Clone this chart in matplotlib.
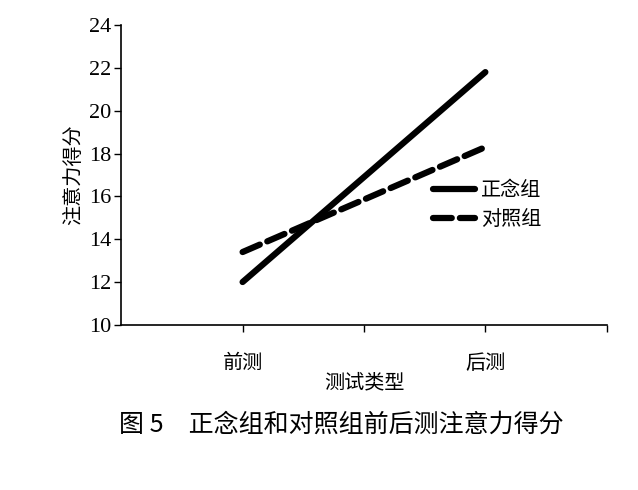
import matplotlib
matplotlib.use('Agg')
import matplotlib.pyplot as plt

plt.rcParams['font.family'] = ['Liberation Serif', 'Noto Sans CJK SC']

# 数据
categories = ['前测', '后测']
zhengnian = [12.0, 21.8]
duizhao = [13.4, 18.3]
yticks = [10, 12, 14, 16, 18, 20, 22, 24]

fig = plt.figure(figsize=(6.38, 4.9), dpi=100)
ax = fig.add_axes([0.190, 0.337, 0.761, 0.612])

xpos = [1, 3]
ax.plot(xpos, zhengnian, color='black', lw=4.5, solid_capstyle='round', label='正念组')
ax.plot(xpos, duizhao, color='black', lw=4.5, dashes=(3, 1.3), dash_capstyle='round', label='对照组')

ax.set_xlim(0, 4)
ax.set_ylim(10, 24)
ax.set_yticks(yticks)
ax.set_yticklabels([str(v) for v in yticks], fontsize=16)
ax.set_xticks([1, 2, 3, 4])
ax.set_xticklabels(['', '', '', ''])
for x, name in zip(xpos, categories):
    ax.text(x, 8.2, name, ha='center', va='center', fontsize=14.5,
            family=['Noto Sans CJK SC'])
ax.text(2, 7.3, '测试类型', ha='center', va='center', fontsize=14.5,
        family=['Noto Sans CJK SC'])
ax.set_ylabel('注意力得分', fontsize=14.5, family=['Noto Sans CJK SC'], labelpad=4)

ax.tick_params(axis='both', direction='out', length=5, width=1, color='black')
ax.tick_params(axis='y', pad=2)
for s in ['top', 'right']:
    ax.spines[s].set_visible(False)
for s in ['left', 'bottom']:
    ax.spines[s].set_linewidth(1.2)

leg = ax.legend(loc='upper left', bbox_to_anchor=(0.605, 0.545), frameon=False,
                prop={'family': 'Noto Sans CJK SC', 'size': 14.5},
                handlelength=2.1, handletextpad=0.3, labelspacing=0.4)

fig.text(0.535, 0.133, '图 5\u3000正念组和对照组前后测注意力得分', ha='center', va='center',
         fontsize=18, family=['Noto Sans CJK SC'])

fig.savefig('out.png', dpi=100)
